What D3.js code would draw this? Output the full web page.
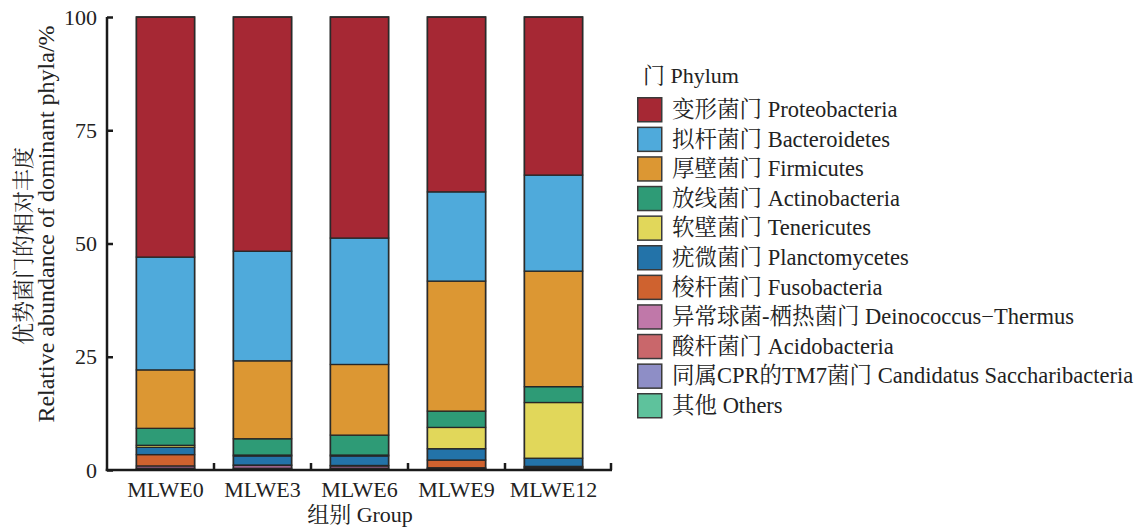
<!DOCTYPE html>
<html>
<head>
<meta charset="utf-8">
<script src="https://cdn.jsdelivr.net/npm/d3@7"></script>
<style>
  html, body { margin: 0; padding: 0; background: #fff; }
  svg text { font-family: "Liberation Serif", "Noto Serif CJK SC", serif; fill: #222; }
</style>
</head>
<body>
<svg id="chart" width="1141" height="529"></svg>
<script>
// Sample groups along the x axis
const groups = ["MLWE0", "MLWE3", "MLWE6", "MLWE9", "MLWE12"];

// Phyla, in legend order (top of stack first)
const phyla = [
  "变形菌门 Proteobacteria",
  "拟杆菌门 Bacteroidetes",
  "厚壁菌门 Firmicutes",
  "放线菌门 Actinobacteria",
  "软壁菌门 Tenericutes",
  "疣微菌门 Planctomycetes",
  "梭杆菌门 Fusobacteria",
  "异常球菌-栖热菌门 Deinococcus−Thermus",
  "酸杆菌门 Acidobacteria",
  "同属CPR的TM7菌门 Candidatus Saccharibacteria",
  "其他 Others"
];

const phylumColors = [
  "#A62834", "#4FAADB", "#DC9733", "#2E9B76", "#E1D75A", "#2373A9",
  "#CF622F", "#C078A9", "#C9676B", "#8E8EC6", "#5EC29C"
];

// Relative abundance (%) of each phylum per group, same order as groups
const proteobacteria   = [53.0, 51.7, 48.8, 38.6, 34.9];
const bacteroidetes    = [24.9, 24.2, 27.9, 19.7, 21.2];
const firmicutes       = [12.9, 17.2, 15.6, 28.7, 25.5];
const actinobacteria   = [3.75, 3.6, 4.4, 3.6, 3.5];
const tenericutes      = [0.45, 0.2, 0.2, 4.7, 12.3];
const planctomycetes   = [1.6, 2.0, 2.1, 2.5, 1.8];
const fusobacteria     = [2.5, 0.1, 0.1, 1.7, 0.1];
const deinococcus      = [0.5, 0.6, 0.5, 0.2, 0.2];
const acidobacteria    = [0.2, 0.2, 0.2, 0.1, 0.1];
const saccharibacteria = [0.1, 0.1, 0.1, 0.1, 0.3];
const others           = [0.1, 0.1, 0.1, 0.1, 0.1];

const yTicks = [0, 25, 50, 75, 100];

const seriesValues = [
  proteobacteria, bacteroidetes, firmicutes, actinobacteria, tenericutes,
  planctomycetes, fusobacteria, deinococcus, acidobacteria, saccharibacteria, others
];

// Table for d3.stack: one row per group, one column per phylum
const rows = groups.map((g, i) => {
  const r = { group: g };
  phyla.forEach((p, j) => { r[p] = seriesValues[j][i]; });
  return r;
});

// Stack from the bottom: Others first, Proteobacteria last
const stackKeys = phyla.slice().reverse();
const stacked = d3.stack().keys(stackKeys)(rows);
const color = d3.scaleOrdinal().domain(phyla).range(phylumColors);

const svg = d3.select("#chart");
const x0 = 107, x1 = 612, yTop = 17, yBottom = 470;
const FONT = '"Liberation Serif", "Noto Serif CJK SC", serif';

const x = d3.scaleBand().domain(groups).range([117, 602]).paddingInner(0.4).paddingOuter(0.2);
const y = d3.scaleLinear().domain([0, 100]).range([yBottom, yTop]);

// Bars
const layer = svg.append("g").selectAll("g")
  .data(stacked).join("g")
  .attr("fill", d => color(d.key));

layer.selectAll("rect")
  .data(d => d).join("rect")
  .attr("x", d => x(d.data.group))
  .attr("width", x.bandwidth())
  .attr("y", d => y(d[1]))
  .attr("height", d => y(d[0]) - y(d[1]))
  .attr("stroke", "#262626")
  .attr("stroke-width", 1.3);

// Bar outline
svg.append("g").selectAll("rect")
  .data(groups).join("rect")
  .attr("x", d => x(d))
  .attr("width", x.bandwidth())
  .attr("y", y(100))
  .attr("height", y(0) - y(100))
  .attr("fill", "none")
  .attr("stroke", "#2a2a2a")
  .attr("stroke-width", 1.5);

// Y axis
const yAxis = d3.axisLeft(y).tickValues(yTicks).tickSize(-6).tickPadding(10);
const gy = svg.append("g").attr("transform", `translate(${x0},0)`).call(yAxis)
  .attr("font-family", null);
gy.select(".domain").attr("d", `M0,${yTop}V${yBottom + 1}`).attr("stroke", "#1a1a1a").attr("stroke-width", 2.5);
gy.selectAll(".tick line").attr("stroke", "#1a1a1a").attr("stroke-width", 2.5);
gy.selectAll(".tick text").style("font-size", "22px").attr("fill", "#222")
  .style("font-family", FONT);

// X axis: ticks on band boundaries, labels at band centres
const gx = svg.append("g").attr("transform", `translate(0,${yBottom})`);
gx.append("path").attr("d", `M${x0 - 1.25},0H${x1}`).attr("stroke", "#1a1a1a").attr("stroke-width", 2.5).attr("fill", "none");
const boundaries = groups.slice(1).map(g => x(g) - x.step() * x.paddingInner() / 2);
boundaries.push(x1 - 1);
gx.selectAll("line.tick").data(boundaries).join("line")
  .attr("class", "tick")
  .attr("x1", d => d).attr("x2", d => d)
  .attr("y1", 0).attr("y2", -7)
  .attr("stroke", "#1a1a1a").attr("stroke-width", 2.5);
gx.selectAll("text").data(groups).join("text")
  .attr("x", d => x(d) + x.bandwidth() / 2)
  .attr("y", 27)
  .attr("text-anchor", "middle")
  .style("font-family", FONT)
  .style("font-size", "22px")
  .text(d => d);

// Axis titles
svg.append("text")
  .attr("x", 360).attr("y", 522)
  .attr("text-anchor", "middle")
  .style("font-family", FONT)
  .style("font-size", "22px")
  .text("组别 Group");

svg.append("text")
  .attr("transform", "translate(31,246) rotate(-90)")
  .attr("text-anchor", "middle")
  .style("font-family", FONT)
  .style("font-size", "22px")
  .text("优势菌门的相对丰度");

svg.append("text")
  .attr("transform", "translate(54,224) rotate(-90)")
  .attr("text-anchor", "middle")
  .style("font-family", FONT)
  .style("font-size", "24px")
  .text("Relative abundance of dominant phyla/%");

// Legend
const legend = svg.append("g").attr("transform", "translate(637,97)");
legend.append("text")
  .attr("x", 6).attr("y", -14)
  .style("font-family", FONT)
  .style("font-size", "22px")
  .text("门 Phylum");

const item = legend.selectAll("g.item").data(phyla).join("g")
  .attr("class", "item")
  .attr("transform", (d, i) => `translate(0,${i * 29.6})`);
item.append("rect")
  .attr("x", 0.75).attr("y", 0.75)
  .attr("width", 24).attr("height", 24)
  .attr("fill", d => color(d))
  .attr("stroke", "#3a3a3a").attr("stroke-width", 1.5);
item.append("text")
  .attr("x", 35).attr("y", 20)
  .style("font-family", FONT)
  .style("font-size", "22.5px")
  .text(d => d);
</script>
</body>
</html>
